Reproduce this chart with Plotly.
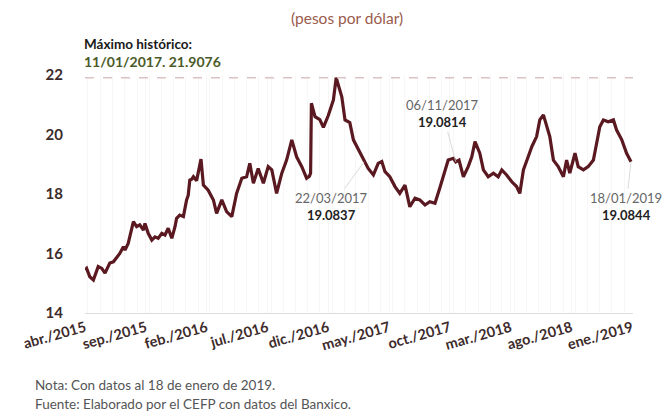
import plotly.graph_objects as go

# --- data (MXN per USD) ---
dates = [
    "2015-04-24", "2015-04-28", "2015-05-06", "2015-05-15", "2015-05-27", "2015-06-05",
    "2015-06-13", "2015-06-25", "2015-07-04", "2015-07-12", "2015-07-20", "2015-07-29",
    "2015-08-02", "2015-08-10", "2015-08-19", "2015-08-23", "2015-08-31", "2015-09-08",
    "2015-09-17", "2015-09-21", "2015-09-29", "2015-10-08", "2015-10-16", "2015-10-24",
    "2015-11-02", "2015-11-10", "2015-11-18", "2015-11-27", "2015-12-05", "2015-12-09",
    "2015-12-17", "2015-12-26", "2016-01-03", "2016-01-07", "2016-01-11", "2016-01-16",
    "2016-01-20", "2016-01-28", "2016-02-08", "2016-02-14", "2016-02-26", "2016-03-10",
    "2016-03-18", "2016-03-31", "2016-04-12", "2016-04-25", "2016-05-07", "2016-05-20",
    "2016-06-01", "2016-06-09", "2016-06-18", "2016-06-30", "2016-07-13", "2016-07-25",
    "2016-08-03", "2016-08-15", "2016-08-28", "2016-09-09", "2016-09-22", "2016-10-04",
    "2016-10-17", "2016-10-29", "2016-11-05", "2016-11-08", "2016-11-10", "2016-11-19",
    "2016-12-01", "2016-12-10", "2016-12-22", "2017-01-04", "2017-01-11", "2017-01-18",
    "2017-01-25", "2017-02-02", "2017-02-14", "2017-02-23", "2017-03-07", "2017-03-15",
    "2017-03-22", "2017-04-01", "2017-04-14", "2017-04-26", "2017-05-05", "2017-05-13",
    "2017-05-25", "2017-06-07", "2017-06-19", "2017-07-02", "2017-07-14", "2017-07-27",
    "2017-08-08", "2017-08-21", "2017-09-02", "2017-09-15", "2017-09-27", "2017-10-10",
    "2017-10-18", "2017-10-31", "2017-11-06", "2017-11-14", "2017-11-25", "2017-12-07",
    "2017-12-16", "2017-12-24", "2018-01-05", "2018-01-14", "2018-01-26", "2018-02-08",
    "2018-02-20", "2018-03-01", "2018-03-13", "2018-03-26", "2018-04-07", "2018-04-15",
    "2018-04-24", "2018-05-06", "2018-05-15", "2018-05-27", "2018-06-04", "2018-06-13",
    "2018-06-21", "2018-06-29", "2018-07-08", "2018-07-20", "2018-08-02", "2018-08-10",
    "2018-08-18", "2018-08-31", "2018-09-08", "2018-09-21", "2018-10-03", "2018-10-16",
    "2018-10-24", "2018-11-01", "2018-11-10", "2018-11-22", "2018-12-05", "2018-12-13",
    "2018-12-26", "2019-01-07", "2019-01-18",
]
tipo_cambio = [
    15.45, 15.50, 15.22, 15.11, 15.56, 15.50,
    15.34, 15.68, 15.72, 15.84, 16.00, 16.23,
    16.12, 16.34, 16.79, 17.07, 16.90, 16.96,
    16.79, 17.01, 16.68, 16.45, 16.56, 16.51,
    16.68, 16.62, 16.85, 16.51, 16.90, 17.18,
    17.29, 17.24, 17.80, 17.95, 18.47, 18.50,
    18.58, 18.45, 19.17, 18.30, 18.13, 17.80,
    17.35, 17.80, 17.41, 17.24, 18.02, 18.53,
    18.58, 19.03, 18.36, 18.86, 18.36, 18.92,
    18.81, 18.02, 18.70, 19.14, 19.82, 19.25,
    18.92, 18.53, 18.60, 18.70, 21.05, 20.60,
    20.50, 20.24, 20.63, 21.16, 21.9076, 21.60,
    21.27, 20.49, 20.40, 19.82, 19.50, 19.30,
    19.0837, 18.86, 18.64, 19.03, 19.09, 18.75,
    18.58, 18.25, 18.02, 18.30, 17.57, 17.86,
    17.80, 17.63, 17.74, 17.69, 18.20, 18.81,
    19.14, 19.20, 19.0814, 19.14, 18.58, 18.92,
    19.25, 19.76, 19.37, 18.81, 18.58, 18.70,
    18.58, 18.81, 18.64, 18.41, 18.25, 18.02,
    18.81, 19.25, 19.59, 19.93, 20.49, 20.66,
    20.26, 19.93, 19.14, 18.92, 18.58, 19.14,
    18.70, 19.37, 18.92, 18.81, 18.92, 19.14,
    19.70, 20.26, 20.49, 20.43, 20.49, 20.15,
    19.82, 19.37, 19.0844,
]

tick_dates = ["2015-04-24", "2015-09-23", "2016-02-22", "2016-07-23", "2016-12-22",
              "2017-05-23", "2017-10-22", "2018-03-23", "2018-08-22", "2019-01-21"]
tick_labels = ["abr./2015", "sep./2015", "feb./2016", "jul./2016", "dic./2016",
               "may./2017", "oct./2017", "mar./2018", "ago./2018", "ene./2019"]

max_date, max_val = "2017-01-11", 21.9076
callouts = [
    ("2017-03-22", 19.0837, "22/03/2017", -33, 45),
    ("2017-11-06", 19.0814, "06/11/2017", -13, -48),
    ("2019-01-18", 19.0844, "18/01/2019", -5, 45),
]

FONT = "Lato"
LINE = "#5a1820"

fig = go.Figure()
fig.add_trace(go.Scatter(
    x=dates, y=tipo_cambio, mode="lines",
    line=dict(color=LINE, width=3.2), hoverinfo="skip", showlegend=False,
))

# dashed line at the historic maximum
fig.add_shape(type="line", xref="paper", x0=0, x1=1, yref="y", y0=max_val, y1=max_val,
              line=dict(color="#dcc3c3", width=1.5, dash="dash"))

fig.update_layout(
    width=663, height=414,
    margin=dict(l=85, r=30, t=75, b=101, autoexpand=False),
    paper_bgcolor="white", plot_bgcolor="white",
    font=dict(family=FONT, color="#3d2b2b"),
    xaxis=dict(
        type="date", range=["2015-04-24", "2019-01-23"], automargin=False,
        tickmode="array", tickvals=tick_dates, ticktext=tick_labels,
        tickangle=-16, tickfont=dict(size=14.5, color="#3d2b2b", family=FONT, weight="bold"),
        showgrid=True, gridcolor="#f7f5f5", gridwidth=1,
        minor=dict(showgrid=True, gridcolor="#f8f7f7", dtick="M1", tick0="2015-05-01"),
        showline=True, linecolor="#dddddd", linewidth=1,
        ticks="", zeroline=False,
    ),
    yaxis=dict(
        range=[14, 22], tickvals=[14, 16, 18, 20, 22], automargin=False,
        tickfont=dict(size=15, color="#3d2b2b", family=FONT, weight="bold"),
        showgrid=False, zeroline=False, showline=False,
        ticks="outside", ticklen=18, tickcolor="rgba(0,0,0,0)",
    ),
)

anns = [
    dict(text="(pesos por dólar)", xref="paper", yref="paper", x=0.478, y=1.239,
         showarrow=False, font=dict(size=15.5, color="#9a5a4c", family=FONT),
         xanchor="center", yanchor="middle"),
    dict(text="<b>Máximo histórico:</b>", xref="paper", yref="paper", x=-0.006, y=1.13,
         showarrow=False, font=dict(size=13.5, color="#1a1a1a", family=FONT),
         xanchor="left", yanchor="middle"),
    dict(text=f"<b>11/01/2017. {max_val}</b>", xref="paper", yref="paper", x=-0.006, y=1.058,
         showarrow=False, font=dict(size=14, color="#4b5a28", family=FONT),
         xanchor="left", yanchor="middle"),
    dict(text="Nota: Con datos al 18 de enero de 2019.", xref="paper", yref="paper",
         x=-0.095, y=-0.303, showarrow=False, xanchor="left", yanchor="middle",
         font=dict(size=13.5, color="#555555", family=FONT)),
    dict(text="Fuente: Elaborado por el CEFP con datos del Banxico.", xref="paper", yref="paper",
         x=-0.095, y=-0.383, showarrow=False, xanchor="left", yanchor="middle",
         font=dict(size=13.5, color="#555555", family=FONT)),
]
for d, v, lab, ax, ay in callouts:
    anns.append(dict(
        x=d, y=v, xref="x", yref="y",
        text=f"<span style='color:#666666'>{lab}</span><br><b>{v:.4f}</b>",
        showarrow=True, arrowhead=0, arrowwidth=0.8, arrowcolor="#cfcfcf",
        ax=ax, ay=ay, font=dict(size=13, color="#222222", family=FONT),
        align="center",
    ))
fig.update_layout(annotations=anns)

fig.write_html("out.html", config={"displayModeBar": False},
               post_script="document.body.style.margin='0';")
